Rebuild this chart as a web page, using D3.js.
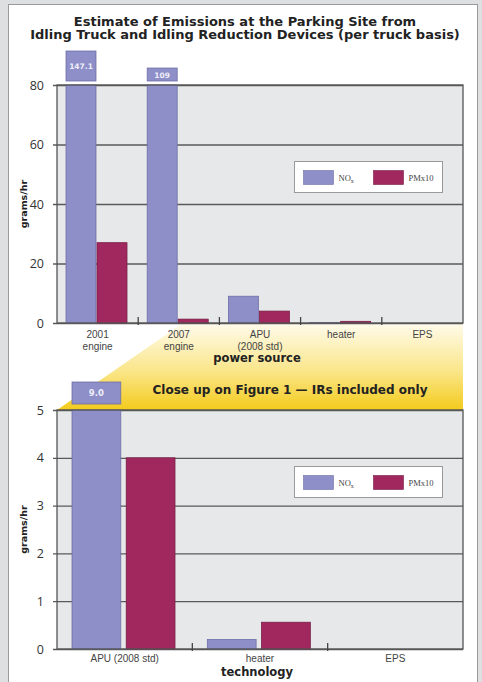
<!DOCTYPE html>
<meta charset="utf-8">
<script src="https://d3js.org/d3.v7.min.js"></script>
<style>
  body { margin: 0; background: #dedfe0; }
  text { font-family: "Noto Sans", "Open Sans", sans-serif; }
</style>
<div id="chart"></div>
<script>

// ---- data ----
const seriesNames = ["NOx", "PM"];

const topCategories = [["2001", "engine"], ["2007", "engine"], ["APU", "(2008 std)"], ["heater"], ["EPS"]];
const topNox = [147.1, 109, 9.0, 0.2, 0];
const topPm  = [27, 1.3, 4.0, 0.56, 0];
const topTicks = [0, 20, 40, 60, 80];

const bottomCategories = [["APU (2008 std)"], ["heater"], ["EPS"]];
const bottomNox = [9.0, 0.2, 0];
const bottomPm  = [4.0, 0.56, 0];
const bottomTicks = [0, 1, 2, 3, 4, 5];

const colors = {NOx: "#8e8ec9", PM: "#a0285f"};
const strokes = {NOx: "#6f6fa6", PM: "#7a1c47"};

const W = 482, H = 682;

const svg = d3.select("#chart").append("svg")
    .attr("width", W)
    .attr("height", H);

// white panel
svg.append("rect")
    .attr("x", 8.5).attr("y", 4.5)
    .attr("width", 469).attr("height", 690)
    .attr("fill", "#fff")
    .attr("stroke", "#9a9a9a");

// title
const titleLines = ["Estimate of Emissions at the Parking Site from",
                    "Idling Truck and Idling Reduction Devices (per truck basis)"];
svg.append("g").selectAll("text")
  .data(titleLines)
  .join("text")
    .attr("x", 245)
    .attr("y", (d, i) => 25.5 + i * 13.5)
    .attr("text-anchor", "middle")
    .style("font-family", "DejaVu Sans")
    .style("font-weight", "bold")
    .style("font-size", "13px")
    .attr("fill", "#222")
    .text(d => d);

// yellow "zoom" funnel between the two charts
const defs = svg.append("defs");
const grad = defs.append("linearGradient")
    .attr("id", "yel").attr("x1", 0).attr("y1", 0).attr("x2", 0).attr("y2", 1);
grad.append("stop").attr("offset", "0%").attr("stop-color", "#fffbec");
grad.append("stop").attr("offset", "55%").attr("stop-color", "#fae68a");
grad.append("stop").attr("offset", "100%").attr("stop-color", "#f4cb1c");

svg.append("path")
    .attr("d", "M57,410 L183,323 L463,323 L463,410 Z")
    .attr("fill", "url(#yel)");

svg.append("text")
    .attr("x", 290).attr("y", 394)
    .attr("text-anchor", "middle")
    .style("font-family", "DejaVu Sans")
    .style("font-weight", "bold")
    .style("font-size", "12px")
    .attr("fill", "#222")
    .text("Close up on Figure 1 \u2014 IRs included only");

// draw one panel
function drawPanel(opt) {
  const {x0, x1, yTop, yBot, cats, nox, pm, ticks, max, inner, boxTop, xLabel, legendY, catY} = opt;

  const g = svg.append("g");

  const x = d3.scaleBand()
      .domain(d3.range(cats.length))
      .range([x0, x1]);

  const xs = d3.scaleBand()
      .domain(seriesNames)
      .range(inner)
      .paddingInner(opt.gap);

  const y = d3.scaleLinear()
      .domain([0, max])
      .range([yBot, yTop]);

  // plot background
  g.append("rect")
      .attr("x", x0).attr("y", yTop)
      .attr("width", x1 - x0).attr("height", yBot - yTop)
      .attr("fill", "#e7e8ea");

  // gridlines + left ticks
  const yAxis = g.append("g")
      .attr("transform", `translate(${x0},0)`)
      .call(d3.axisLeft(y).tickValues(ticks).tickFormat(d3.format("d")).tickSizeOuter(0).tickPadding(7));
  yAxis.select(".domain").remove();
  yAxis.selectAll(".tick line")
      .attr("stroke", "#5a5a5a").attr("stroke-width", 1.3)
      .attr("x1", -4).attr("x2", x1 - x0);
  yAxis.selectAll(".tick text")
      .style("font-family", "Open Sans")
      .style("font-size", "12.5px")
      .attr("fill", "#333");

  const rows = cats.map((c, i) => ({i, NOx: nox[i], PM: pm[i]}));

  // bars
  const bar = g.append("g").selectAll("g")
    .data(rows)
    .join("g")
      .attr("transform", d => `translate(${x(d.i)},0)`);

  bar.selectAll("rect")
    .data(d => seriesNames.map(s => ({s, v: d[s]})).filter(e => e.v > 0))
    .join("rect")
      .attr("x", d => xs(d.s))
      .attr("width", xs.bandwidth())
      .attr("y", d => y(Math.min(d.v, max)))
      .attr("height", d => yBot - y(Math.min(d.v, max)))
      .attr("fill", d => colors[d.s])
      .attr("stroke", d => strokes[d.s])
      .attr("stroke-width", 0.8);

  // broken-bar value boxes
  bar.filter(d => d.NOx > max).each(function(d) {
    const b = d3.select(this);
    const t = boxTop(d.NOx);
    const bottom = opt.boxBottom;
    b.append("rect")
        .attr("x", xs("NOx"))
        .attr("width", xs.bandwidth())
        .attr("y", t)
        .attr("height", bottom - t)
        .attr("fill", colors.NOx)
        .attr("stroke", strokes.NOx)
        .attr("stroke-width", 0.8);
    b.append("text")
        .attr("x", xs("NOx") + xs.bandwidth() / 2)
        .attr("y", (t + bottom) / 2 + 3)
        .attr("text-anchor", "middle")
        .style("font-family", "DejaVu Sans")
        .style("font-weight", "bold")
        .style("font-size", opt.boxFont)
        .attr("fill", "#eeeef8")
        .text(d3.format(opt.boxFmt)(d.NOx));
  });

  // plot frame
  g.append("rect")
      .attr("x", x0).attr("y", yTop)
      .attr("width", x1 - x0).attr("height", yBot - yTop)
      .attr("fill", "none")
      .attr("stroke", "#555")
      .attr("stroke-width", 1.3);

  // group boundary ticks on the x axis
  g.append("g").selectAll("line")
    .data(d3.range(1, cats.length))
    .join("line")
      .attr("x1", d => x(d)).attr("x2", d => x(d))
      .attr("y1", yBot - 6).attr("y2", yBot + 2)
      .attr("stroke", "#444")
      .attr("stroke-width", 1.3);

  // category labels, one text per line
  const catLines = cats.flatMap((c, i) => c.map((line, j) => ({i, j, line})));
  g.append("g").selectAll("text")
    .data(catLines)
    .join("text")
      .attr("x", d => x(d.i) + x.bandwidth() / 2)
      .attr("y", d => catY + d.j * 11.5)
      .attr("text-anchor", "middle")
      .style("font-family", "Liberation Sans")
      .style("font-size", "10px")
      .attr("fill", "#444")
      .text(d => d.line);

  // x axis title
  g.append("text")
      .attr("x", (x0 + x1) / 2 - 3)
      .attr("y", opt.xLabelY)
      .attr("text-anchor", "middle")
      .style("font-family", "DejaVu Sans")
      .style("font-weight", "bold")
      .style("font-size", "11.5px")
      .attr("fill", "#222")
      .text(xLabel);

  // y axis title
  g.append("text")
      .attr("transform", `translate(27,${(yTop + yBot) / 2}) rotate(-90)`)
      .attr("text-anchor", "middle")
      .style("font-family", "DejaVu Sans")
      .style("font-weight", "bold")
      .style("font-size", "9.5px")
      .attr("fill", "#222")
      .text("grams/hr");

  // legend
  const lg = g.append("g").attr("transform", `translate(294.5,${legendY + 0.5})`);
  lg.append("rect")
      .attr("width", 148).attr("height", 31)
      .attr("fill", "#fff")
      .attr("stroke", "#9a9a9a");
  const item = lg.selectAll("g.item")
    .data(seriesNames)
    .join("g")
      .attr("class", "item")
      .attr("transform", (d, i) => `translate(${9 + i * 70},9)`);
  item.append("rect")
      .attr("width", 30).attr("height", 14)
      .attr("fill", d => colors[d])
      .attr("stroke", d => strokes[d])
      .attr("stroke-width", 0.6);
  const lt = item.append("text")
      .attr("x", 35).attr("y", 10)
      .style("font-family", "Liberation Serif")
      .style("font-size", "8.5px")
      .attr("fill", "#444");
  lt.filter(d => d === "NOx").each(function() {
    const t = d3.select(this);
    t.append("tspan").text("NO");
    t.append("tspan").attr("dy", 2).style("font-size", "6px").text("x");
  });
  lt.filter(d => d === "PM").text("PMx10");
}

drawPanel({
  x0: 57, x1: 463, yTop: 85, yBot: 323,
  cats: topCategories, nox: topNox, pm: topPm, ticks: topTicks, max: 80,
  inner: [9, 70], gap: 0.033,
  boxTop: d3.scaleLinear().domain([80, 147.1]).range([81, 51]),
  boxBottom: 81, boxFont: "7.5px", boxFmt: "",
  xLabel: "power source", xLabelY: 362, legendY: 161, catY: 338
});

drawPanel({
  x0: 57, x1: 463, yTop: 410, yBot: 649,
  cats: bottomCategories, nox: bottomNox, pm: bottomPm, ticks: bottomTicks, max: 5,
  inner: [15, 118], gap: 0.1,
  boxTop: d3.scaleLinear().domain([5, 9]).range([404, 382]),
  boxBottom: 404, boxFont: "8.5px", boxFmt: ".1f",
  xLabel: "technology", xLabelY: 676, legendY: 466, catY: 662
});

</script>
